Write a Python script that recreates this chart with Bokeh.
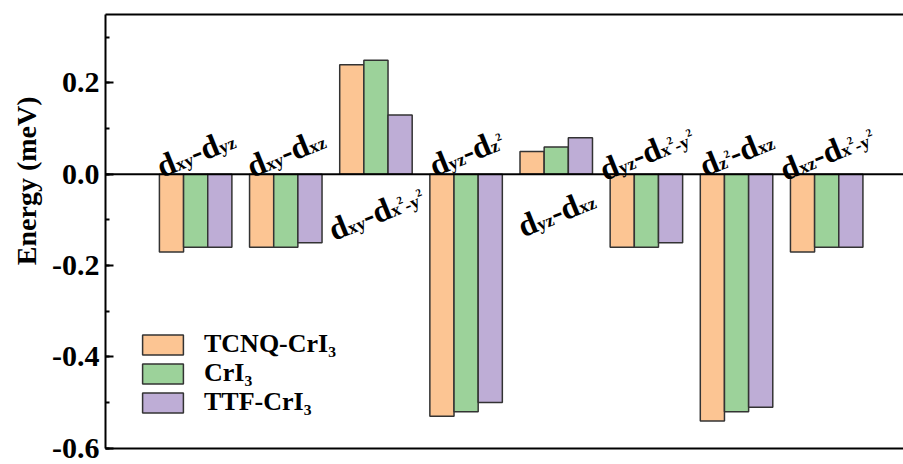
import math
import numpy as np
from bokeh.plotting import figure
from bokeh.models import (ColumnDataSource, Range1d, LinearAxis, FixedTicker, SingleIntervalTicker,
                          NumeralTickFormatter, Span, Label, Legend, LegendItem, Title)
from bokeh.embed import file_html
from bokeh.resources import INLINE

# ---------------- data ----------------
pairs = ["dxy-dyz", "dxy-dxz", "dxy-dx2-y2", "dyz-dz2", "dyz-dxz", "dyz-dx2-y2", "dz2-dxz", "dxz-dx2-y2"]
tcnq = [-0.17, -0.16, 0.24, -0.53, 0.05, -0.16, -0.54, -0.17]
cri3 = [-0.16, -0.16, 0.25, -0.52, 0.06, -0.16, -0.52, -0.16]
ttf = [-0.16, -0.15, 0.13, -0.50, 0.08, -0.15, -0.51, -0.16]
series_names = ["TCNQ-CrI\u2083", "CrI\u2083", "TTF-CrI\u2083"]
colors = ["#FCC593", "#9CD29A", "#BEADD6"]
y_ticks_interval = 0.2

# label pieces: (text, kind) m=main, s=subscript, p=superscript on subscript
group_labels = [
    [("d", "m"), ("xy", "s"), ("-", "m"), ("d", "m"), ("yz", "s")],
    [("d", "m"), ("xy", "s"), ("-", "m"), ("d", "m"), ("xz", "s")],
    [("d", "m"), ("xy", "s"), ("-", "m"), ("d", "m"), ("x", "s"), ("2", "p"), ("-", "s"), ("y", "s"), ("2", "p")],
    [("d", "m"), ("yz", "s"), ("-", "m"), ("d", "m"), ("z", "s"), ("2", "p")],
    [("d", "m"), ("yz", "s"), ("-", "m"), ("d", "m"), ("xz", "s")],
    [("d", "m"), ("yz", "s"), ("-", "m"), ("d", "m"), ("x", "s"), ("2", "p"), ("-", "s"), ("y", "s"), ("2", "p")],
    [("d", "m"), ("z", "s"), ("2", "p"), ("-", "m"), ("d", "m"), ("xz", "s")],
    [("d", "m"), ("xz", "s"), ("-", "m"), ("d", "m"), ("x", "s"), ("2", "p"), ("-", "s"), ("y", "s"), ("2", "p")],
]

FONT = "Liberation Serif"

x = np.arange(1, len(pairs) + 1, dtype=float)
bw = 0.268

p = figure(width=903, height=464, output_backend="svg", toolbar_location=None,
           x_axis_type=None, x_range=Range1d(0, 8.852), y_range=Range1d(-0.6005, 0.35),
           min_border_left=101, min_border_top=14, min_border_bottom=16, min_border_right=0,
           background_fill_color="white", border_fill_color="white")
p.outline_line_color = None
p.ygrid.visible = False

renderers = []
for vals, off, col in zip([tcnq, cri3, ttf], [-bw, 0, bw], colors):
    src = ColumnDataSource(dict(x=x + off, top=vals))
    r = p.vbar(x="x", top="top", bottom=0, width=bw, source=src, fill_color=col,
               line_color="#333333", line_width=1.5)
    renderers.append(r)

p.add_layout(Span(location=0, dimension="width", line_color="black", line_width=2))

# y axis
ya = p.yaxis[0]
ya.ticker = SingleIntervalTicker(interval=y_ticks_interval, num_minor_ticks=2)
ya.formatter = NumeralTickFormatter(format="0.0")
ya.major_tick_in = 8
ya.major_tick_out = 0
ya.minor_tick_in = 4
ya.minor_tick_out = 0
ya.axis_line_width = 2
ya.major_tick_line_width = 2
ya.minor_tick_line_width = 2
ya.major_label_standoff = 6
ya.major_label_text_font = FONT
ya.major_label_text_font_style = "bold"
ya.major_label_text_font_size = "30px"
ya.major_label_text_color = "black"

for loc in ["above", "below"]:
    ax = LinearAxis(ticker=FixedTicker(ticks=[]), major_label_text_font_size="0px",
                    major_tick_out=0, major_tick_in=0, minor_tick_out=0, minor_tick_in=0,
                    major_label_standoff=0, axis_line_width=2, axis_line_color="black")
    p.add_layout(ax, loc)

p.add_layout(Title(text="Energy (meV)", align="right", offset=82, vertical_align="bottom",
                   standoff=16, text_font=FONT, text_font_style="bold", text_font_size="28px",
                   text_color="black"), "left")

# group labels
em = {"d": 0.556, "x": 0.5, "y": 0.5, "z": 0.444, "-": 0.333, "2": 0.5}
sizes = {"m": 32, "s": 18, "p": 11}
shifts = {"m": 0, "s": -5, "p": 2}
th = math.radians(22)
for i, pieces in enumerate(group_labels):
    widths = [sum(em[c] for c in t) * sizes[k] for t, k in pieces]
    L = sum(widths)
    neg = tcnq[i] < 0
    base_dy = 22 if neg else -38
    s = -L / 2
    for (t, k), w in zip(pieces, widths):
        v = shifts[k]
        dx = s * math.cos(th) - v * math.sin(th)
        dy = s * math.sin(th) + v * math.cos(th)
        p.add_layout(Label(x=x[i], y=0, x_offset=dx, y_offset=base_dy + dy, angle=th, text=t,
                           text_align="left", text_baseline="alphabetic", text_font=FONT,
                           text_font_style="bold", text_font_size=f"{sizes[k]}px", text_color="black"))
        s += w

# legend: one entry per Legend so that rows can sit as tightly as in the reference
for n, r, ly in zip(series_names, renderers, [89, 60, 31]):
    lg = Legend(items=[LegendItem(label=n, renderers=[r])],
                location=(32, ly), glyph_width=51, glyph_height=25, label_standoff=16,
                spacing=0, padding=0, margin=0, border_line_color=None, background_fill_alpha=0,
                label_text_font=FONT, label_text_font_style="bold", label_text_font_size="26px",
                label_text_color="black")
    p.add_layout(lg)

open("out.html", "w").write(file_html(p, INLINE))
